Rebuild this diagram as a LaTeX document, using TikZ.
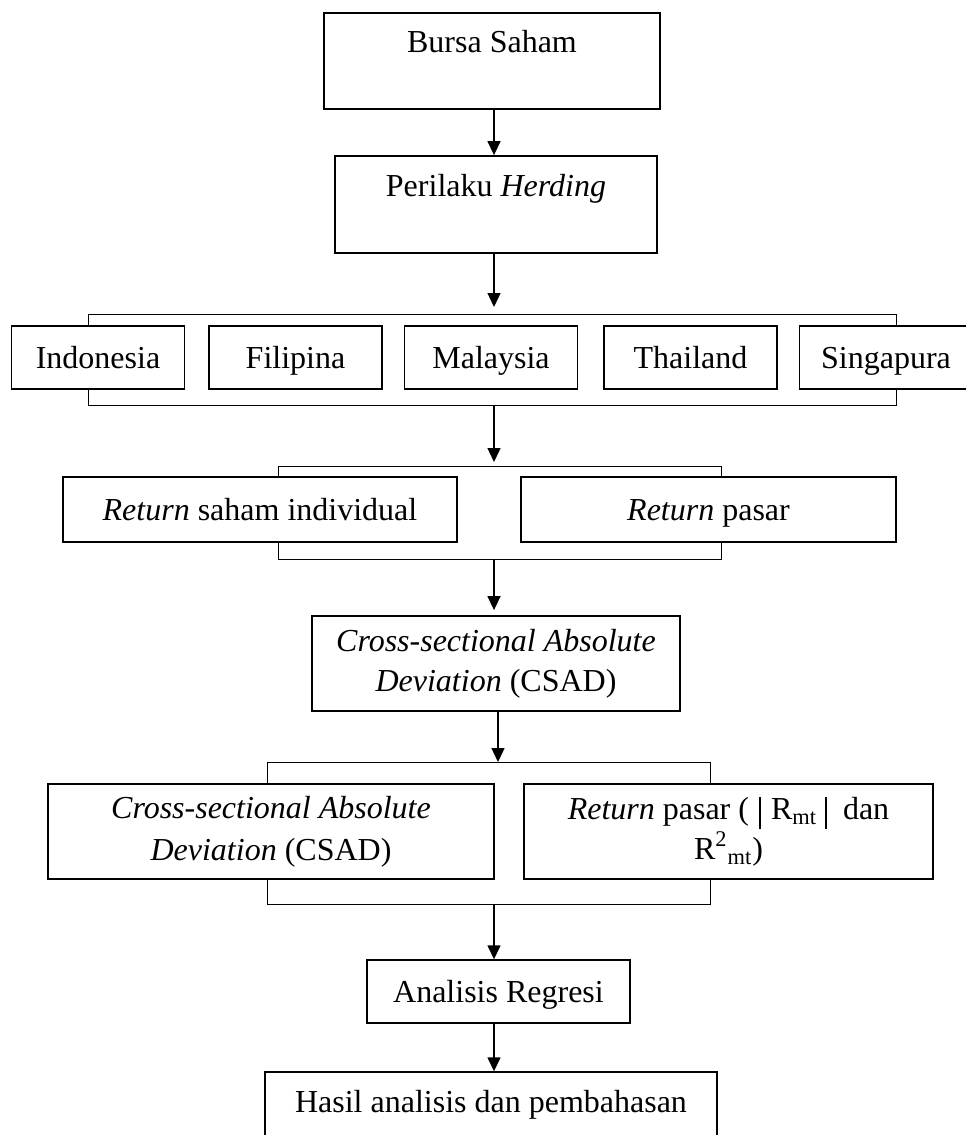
\documentclass[tikz,border=0pt]{standalone}
\usepackage{fontspec}
\setmainfont{Liberation Serif}
\usetikzlibrary{arrows.meta}

\begin{document}
\begin{tikzpicture}[x=0.5pt,y=-0.5pt,
  kotak/.style={draw, line width=0.7pt, align=center, inner sep=0pt, font=\fontsize{16}{20}\selectfont},
  satu/.style={kotak, text height=11pt, text depth=0pt},
  kotakatas/.style={kotak, line width=0.9pt, text height=11pt, text depth=19pt},
  kurung/.style={draw, line width=0.5pt},
  panah/.style={-{Triangle[length=7pt,width=6.5pt]}, line width=0.7pt}]
\useasboundingbox (0,0) rectangle (965,1135);

  % kotak utama
  \node[kotakatas, minimum width=168pt, minimum height=48pt] (bursa) at (492,61) {Bursa Saham};
  \node[kotakatas, minimum width=161pt, minimum height=48.5pt] (herding) at (496,204.5) {Perilaku \textit{Herding}};

  % negara
  \foreach \nama/\teks/\x in {indo/Indonesia/98, fili/Filipina/295.5, malay/Malaysia/491, thai/Thailand/690.5, singa/Singapura/886}
    \node[satu, minimum width=86.5pt, minimum height=31.5pt] (\nama) at (\x,357.5) {\teks};

  \node[satu, minimum width=197pt, minimum height=32.5pt] (rsaham) at (260,509.5) {\textit{Return} saham individual};
  \node[satu, minimum width=187.5pt, minimum height=32.5pt] (rpasar) at (708.5,509.5) {\textit{Return} pasar};

  \node[kotak, line width=0.9pt, minimum width=184pt, minimum height=47.5pt] (csad) at (496,663.5) {\textit{Cross-sectional Absolute}\\\textit{Deviation} (CSAD)};

  \node[kotak, minimum width=223pt, minimum height=47.5pt] (csadx) at (271,831.5) {\textit{Cross-sectional Absolute}\\[1pt]\textit{Deviation} (CSAD)};
  \node[kotak, minimum width=204.5pt, minimum height=47.5pt] (rpasarx) at (728.5,831.5) {\textit{Return} pasar (\hspace{5pt}\rule[-5pt]{1pt}{16pt}\hspace{5pt}R\textsubscript{mt}\hspace{4pt}\rule[-5pt]{1pt}{16pt}\ \ dan\\R\textsuperscript{2}\textsubscript{mt})};

  \node[satu, minimum width=131.5pt, minimum height=31.5pt] (regresi) at (498.5,991.5) {Analisis Regresi};
  \node[kotakatas, line width=0.7pt, minimum width=226pt, minimum height=48pt] (hasil) at (491,1120) {Hasil analisis dan pembahasan};

  % kurung penghubung
  \coordinate (k1a) at (88,314);  \coordinate (k1b) at (896,314);
  \coordinate (k1c) at (88,405);  \coordinate (k1d) at (896,405);
  \coordinate (k2a) at (278,466); \coordinate (k2b) at (721,466);
  \coordinate (k2c) at (278,559); \coordinate (k2d) at (721,559);
  \coordinate (k3a) at (267,762); \coordinate (k3b) at (710,762);
  \coordinate (k3c) at (267,904); \coordinate (k3d) at (710,904);

  \draw[kurung] (indo.north -| k1a) -- (k1a) -- (k1b) -- (singa.north -| k1b);
  \draw[kurung] (indo.south -| k1c) -- (k1c) -- (k1d) -- (singa.south -| k1d);
  \draw[kurung] (rsaham.north -| k2a) -- (k2a) -- (k2b) -- (rpasar.north -| k2b);
  \draw[kurung] (rsaham.south -| k2c) -- (k2c) -- (k2d) -- (rpasar.south -| k2d);
  \draw[kurung] (csadx.north -| k3a) -- (k3a) -- (k3b) -- (rpasarx.north -| k3b);
  \draw[kurung] (csadx.south -| k3c) -- (k3c) -- (k3d) -- (rpasarx.south -| k3d);

  % panah
  \coordinate (tengah) at (494,0);
  \coordinate (geser) at (498,0);
  \draw[panah] (bursa.south -| tengah) -- (herding.north -| tengah);
  \draw[panah, shorten >=3.5pt] (herding.south -| tengah) -- (k1a -| tengah);
  \draw[panah, shorten >=2pt] (k1c -| tengah) -- (k2a -| tengah);
  \draw[panah, shorten >=2.5pt] (k2c -| tengah) -- (csad.north -| tengah);
  \draw[panah] (csad.south -| geser) -- (k3a -| geser);
  \draw[panah] (k3c -| tengah) -- (regresi.north -| tengah);
  \draw[panah] (regresi.south -| tengah) -- (hasil.north -| tengah);

\end{tikzpicture}
\end{document}
